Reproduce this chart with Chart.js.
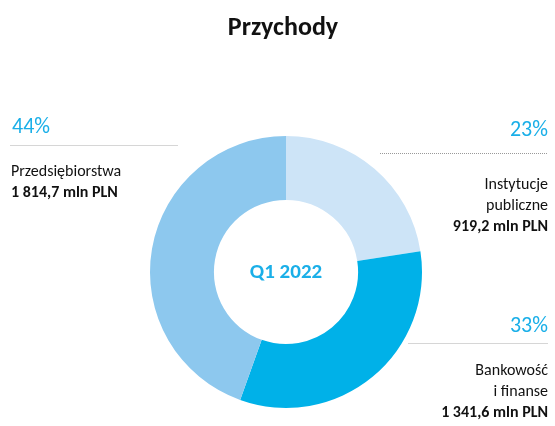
<!DOCTYPE html>
<html>
<head>
<meta charset="utf-8">
<script src="https://cdn.jsdelivr.net/npm/chart.js@4"></script>
<style>
  html, body { margin: 0; padding: 0; background: #fff; }
  #wrap { width: 555px; height: 426px; position: relative; }
</style>
</head>
<body>
<div id="wrap"><canvas id="revenueChart"></canvas></div>
<script>
var categories = ['Instytucje publiczne', 'Bankowość i finanse', 'Przedsiębiorstwa'];
var labelLines = [['Instytucje', 'publiczne'], ['Bankowość', 'i finanse'], ['Przedsiębiorstwa']];
var values = [919.2, 1341.6, 1814.7];
var valueLabels = ['919,2 mln PLN', '1 341,6 mln PLN', '1 814,7 mln PLN'];
var percents = ['23%', '33%', '44%'];
var colors = ['#CDE4F7', '#00B1E8', '#8DC8EE'];

const FONT = 'Carlito, Calibri, Lato, sans-serif';

// labels placed around the ring: side, y of percent, y of separator line, line extent
const calloutPos = [
    { side: 'right', pctY: 130, lineY: 153, x1: 380, x2: 548, dotted: true, textY: 185 },
    { side: 'right', pctY: 326, lineY: 343, x1: 408, x2: 548, dotted: false, textY: 371 },
    { side: 'left', pctY: 127, lineY: 145, x1: 10, x2: 178, dotted: false, textY: 172 }
];

const textPlugin = {
    id: 'textPlugin',
    afterDraw(chart) {
        const ctx = chart.ctx;
        ctx.save();
        // title
        ctx.fillStyle = '#111';
        ctx.font = 'bold 26px ' + FONT;
        ctx.textAlign = 'center';
        ctx.textBaseline = 'middle';
        ctx.fillText('Przychody', 283, 28);

        // centre text
        const meta = chart.getDatasetMeta(0);
        const arc = meta.data[0];
        ctx.fillStyle = '#1AAFE8';
        ctx.font = 'bold 21px ' + FONT;
        ctx.fillText('Q1 2022', arc.x, arc.y + 1);

        categories.forEach((c, i) => {
            const p = calloutPos[i];
            const right = p.side === 'right';
            const tx = right ? 548 : 11;
            ctx.textAlign = right ? 'right' : 'left';

            ctx.fillStyle = '#1AAFE8';
            ctx.font = '22px ' + FONT;
            ctx.fillText(percents[i], right ? tx : tx + 1, p.pctY);

            ctx.beginPath();
            ctx.strokeStyle = p.dotted ? '#999' : '#D6D6D6';
            ctx.lineWidth = 1;
            ctx.setLineDash(p.dotted ? [1, 1] : []);
            ctx.moveTo(p.x1, p.lineY + 0.5);
            ctx.lineTo(p.x2, p.lineY + 0.5);
            ctx.stroke();
            ctx.setLineDash([]);

            ctx.fillStyle = '#111';
            ctx.font = '16px ' + FONT;
            let y = p.textY;
            labelLines[i].forEach(line => {
                ctx.fillText(line, tx, y);
                y += 21;
            });
            ctx.font = 'bold 16px ' + FONT;
            ctx.fillText(valueLabels[i], tx, y);
        });
        ctx.restore();
    }
};

var ctx = document.getElementById('revenueChart').getContext('2d');

var myChart = new Chart(ctx, {
    type: 'doughnut',
    data: {
        labels: categories,
        datasets: [{
            data: values,
            backgroundColor: colors,
            borderWidth: 0
        }]
    },
    options: {
        responsive: true,
        maintainAspectRatio: false,
        animation: false,
        cutout: '53%',
        layout: {
            padding: { left: 150, right: 133, top: 136, bottom: 18 }
        },
        plugins: {
            legend: { display: false },
            title: { display: false },
            tooltip: { enabled: false }
        }
    },
    plugins: [textPlugin]
});
</script>
</body>
</html>
